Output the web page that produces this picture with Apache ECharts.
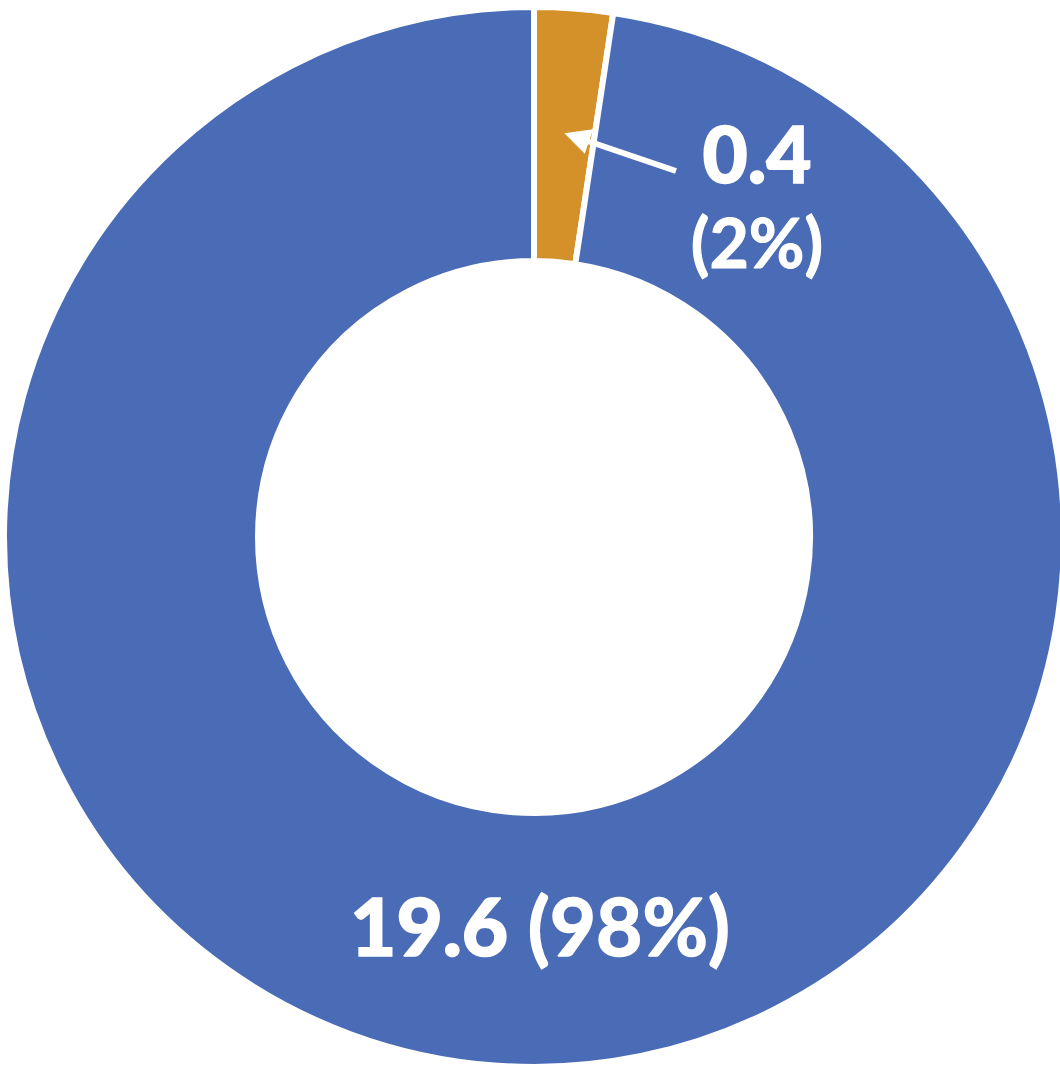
<!DOCTYPE html>
<html>
<head>
<meta charset="utf-8">
<script src="https://cdn.jsdelivr.net/npm/echarts@6/dist/echarts.min.js"></script>
<style>
  html, body { margin: 0; padding: 0; background: #ffffff; }
  #chart { width: 1060px; height: 1077px; }
</style>
</head>
<body>
<div id="chart"></div>
<script>
// ---- data ----
var categories = ['Small share', 'Large share'];
var values = [0.4, 19.6];
var percents = [2, 98];
var colors = ['#D4912A', '#4A6BB5'];

var CX = 534, CY = 537;
var MIN_ANGLE = 8.6;
var FONT = 'Lato';

var chart = echarts.init(document.getElementById('chart'), null, { renderer: 'svg' });

var seriesData = categories.map(function (c, i) {
  return { name: c, value: values[i], itemStyle: { color: colors[i] } };
});

// arrow geometry from slice middle angle
var mid = (90 - MIN_ANGLE / 2) * Math.PI / 180;
var tipR = 405;
var tip = [CX + tipR * Math.cos(mid), CY - tipR * Math.sin(mid)];
var tail = [676, 171];
var dx = tail[0] - tip[0], dy = tail[1] - tip[1];
var len = Math.sqrt(dx * dx + dy * dy);
var ux = dx / len, uy = dy / len;
var headLen = 26, headHalf = 13;
var base = [tip[0] + ux * (headLen - 3), tip[1] + uy * (headLen - 3)];
var hb = [tip[0] + ux * headLen, tip[1] + uy * headLen];
var p1 = [hb[0] - uy * headHalf, hb[1] + ux * headHalf];
var p2 = [hb[0] + uy * headHalf, hb[1] - ux * headHalf];

function txt(size, weight, border, lh) {
  var s = { fontSize: size, fontWeight: weight, color: '#fff', fontFamily: FONT,
            textBorderColor: '#fff', textBorderWidth: border };
  if (lh) s.lineHeight = lh;
  return s;
}

chart.setOption({
  backgroundColor: '#ffffff',
  animation: false,
  series: [{
    type: 'pie',
    center: [CX, CY],
    radius: [276, 530],
    startAngle: 90,
    clockwise: true,
    minAngle: MIN_ANGLE,
    avoidLabelOverlap: false,
    itemStyle: { borderColor: '#ffffff', borderWidth: 6 },
    label: {
      show: true,
      position: 'inside',
      color: '#ffffff',
      fontFamily: FONT,
      fontWeight: 'bold',
      formatter: function (p) {
        var i = p.dataIndex;
        if (i === 0) {
          return '{a|' + values[i] + '}\n{b|(' + percents[i] + '%)}';
        }
        return '{c|' + values[i] + '}{d|\u00a0(' + percents[i] + '%)}';
      },
      rich: {
        a: txt(78, 900, 1.5, 88),
        b: txt(68, 'bold', 1, 88),
        c: txt(80, 900, 1.5),
        d: txt(80, 'bold', 1.5)
      }
    },
    labelLine: { show: false },
    labelLayout: function (params) {
      if (params.dataIndex === 0) {
        return { x: 757, y: 197, align: 'center', verticalAlign: 'middle' };
      }
      return { x: 540, y: 925, align: 'center', verticalAlign: 'middle' };
    },
    emphasis: { disabled: true },
    data: seriesData
  }],
  graphic: [
    {
      type: 'line',
      shape: { x1: tail[0], y1: tail[1], x2: base[0], y2: base[1] },
      style: { stroke: '#ffffff', lineWidth: 6 },
      z: 100
    },
    {
      type: 'polygon',
      shape: { points: [tip, p1, p2] },
      style: { fill: '#ffffff' },
      z: 100
    }
  ]
});
</script>
</body>
</html>
